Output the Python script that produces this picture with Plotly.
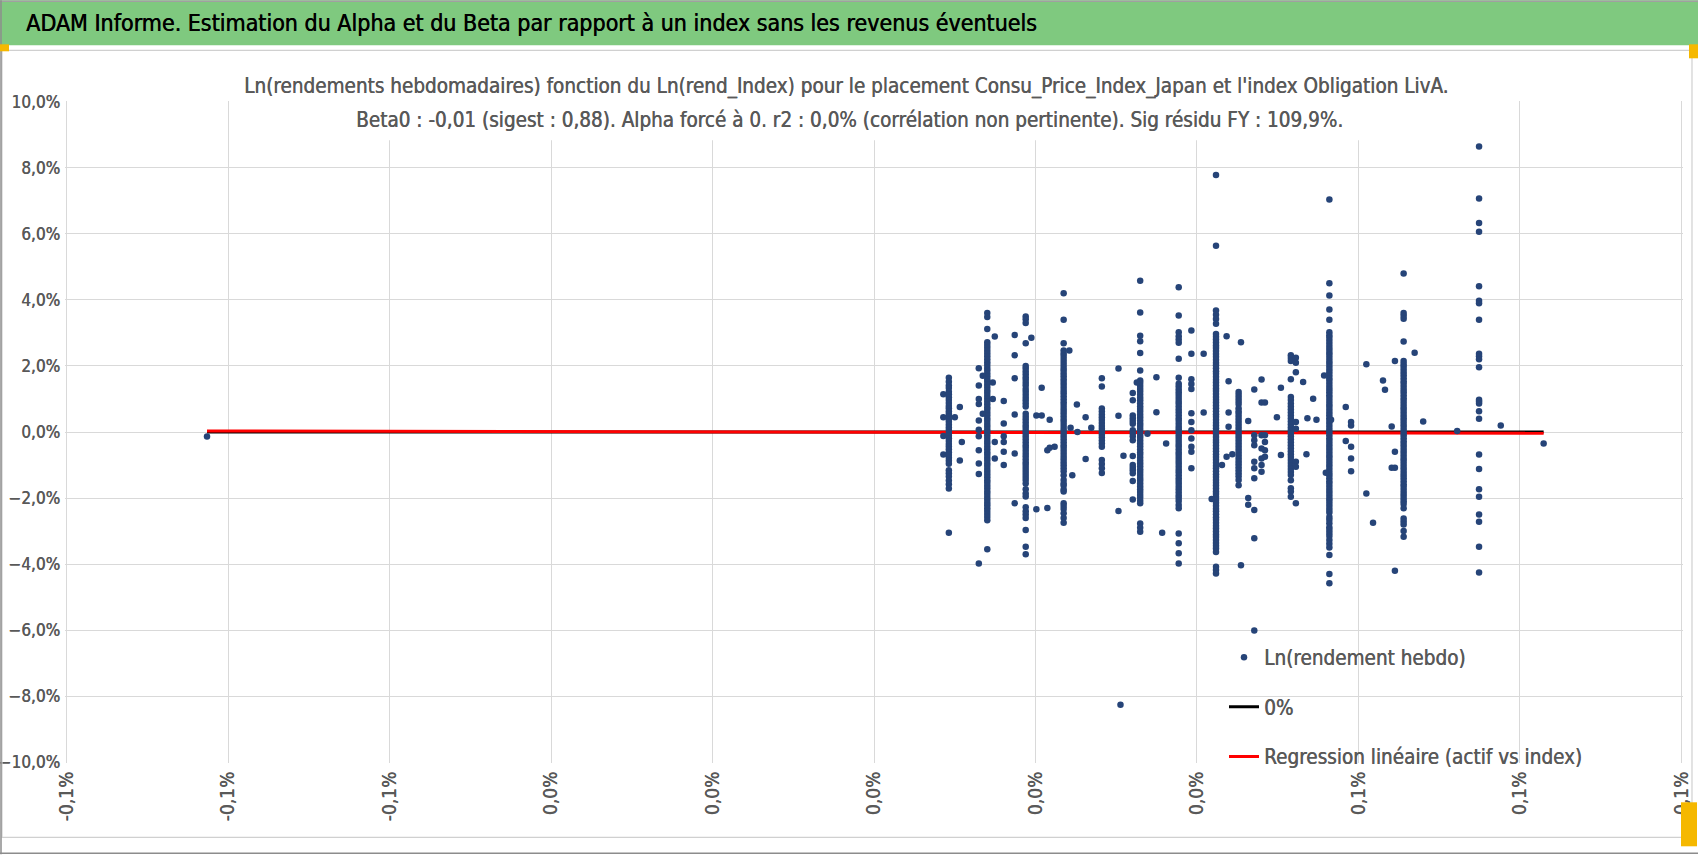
import plotly.graph_objects as go

# ---------- data (ln returns, in %) ----------
# x = ln(rend_Index) hebdo, y = ln(rendement hebdo) of the asset

col_x = [0.00927, 0.01403, 0.01879, 0.02349, 0.02822, 0.03205, 0.03297,
         0.03774, 0.04236, 0.04516, 0.05163, 0.05640, 0.06560, 0.07494]

c01 = [1.64, 1.52, 1.41, 1.33, 1.22, 1.14, 1.05, 0.97, 0.88, 0.79, 0.72, 0.63, 0.55, 0.47, 0.38,
       0.31, 0.22, 0.14, 0.06, -0.03, -0.11, -0.19, -0.27, -0.36, -0.44, -0.52, -0.61, -0.7, -0.78,
       -0.87, -0.96, -1.16, -1.25, -1.35, -1.47, -1.58, -1.71, -3.05]
c02 = [3.6, 3.48, 3.12, 2.72, 2.63, 2.55, 2.46, 2.38, 2.29, 2.2, 2.11, 2.03, 1.94, 1.86, 1.77, 1.69,
       1.6, 1.52, 1.43, 1.35, 1.26, 1.18, 1.09, 1.01, 0.92, 0.84, 0.75, 0.67, 0.58, 0.5, 0.41, 0.33,
       0.24, 0.16, 0.07, -0.01, -0.1, -0.18, -0.27, -0.35, -0.44, -0.52, -0.61, -0.69, -0.78, -0.86,
       -0.95, -1.03, -1.12, -1.2, -1.29, -1.37, -1.46, -1.54, -1.63, -1.71, -1.8, -1.88, -1.97, -2.05,
       -2.14, -2.22, -2.31, -2.39, -2.48, -2.57, -2.67, -3.55]
c03 = [3.5, 3.41, 3.3, 2.69, 2.0, 1.92, 1.83, 1.75, 1.66, 1.58, 1.49, 1.41, 1.3, 1.22, 1.13, 1.04,
       0.95, 0.86, 0.77, 0.55, 0.46, 0.38, 0.29, 0.2, 0.12, 0.03, -0.05, -0.14, -0.22, -0.31, -0.4,
       -0.48, -0.57, -0.66, -0.74, -0.83, -0.92, -1.0, -1.09, -1.18, -1.27, -1.36, -1.45, -1.56,
       -1.73, -1.86, -1.95, -2.28, -2.4, -2.5, -2.6, -2.97, -3.47, -3.7]
c04 = [4.2, 3.4, 2.69, 2.47, 2.38, 2.3, 2.21, 2.12, 2.03, 1.94, 1.86, 1.77, 1.69, 1.6, 1.51, 1.43,
       1.34, 1.25, 1.17, 1.08, 0.99, 0.9, 0.82, 0.73, 0.64, 0.56, 0.47, 0.38, 0.3, 0.21, 0.12, 0.04,
       -0.05, -0.14, -0.22, -0.31, -0.4, -0.48, -0.57, -0.66, -0.75, -0.83, -0.92, -1.01, -1.1,
       -1.19, -1.31, -1.45, -1.56, -1.62, -1.74, -1.8, -2.16, -2.24, -2.33, -2.46, -2.6, -2.75]
c05 = [1.63, 1.38, 0.71, 0.62, 0.53, 0.45, 0.36, 0.27, 0.18, 0.1, 0.01, -0.08, -0.17, -0.26,
       -0.35, -0.45, -0.85, -0.97, -1.1, -1.24]
c06 = [1.18, 0.96, 0.5, 0.42, 0.33, 0.25, 0.05, -0.04, -0.13, -0.25, -0.73, -1.0, -1.08, -1.16,
       -1.25, -1.48, -2.04]
c07 = [4.58, 3.62, 2.91, 2.75, 2.39, 1.86, 1.56, 1.48, 1.39, 1.3, 1.22, 1.13, 1.04, 0.96, 0.87,
       0.78, 0.7, 0.61, 0.52, 0.44, 0.35, 0.26, 0.18, 0.09, 0.0, -0.09, -0.17, -0.26, -0.35, -0.43,
       -0.52, -0.61, -0.69, -0.78, -0.87, -0.95, -1.04, -1.13, -1.21, -1.3, -1.39, -1.47, -1.56,
       -1.65, -1.73, -1.82, -1.91, -1.99, -2.08, -2.16, -2.77, -2.9, -3.02]
c08 = [4.38, 3.53, 3.02, 2.9, 2.8, 2.7, 2.22, 1.64, 1.46, 1.38, 1.29, 1.2, 1.12, 1.03, 0.94, 0.86,
       0.77, 0.68, 0.6, 0.51, 0.42, 0.34, 0.25, 0.16, 0.08, -0.01, -0.1, -0.18, -0.27, -0.36, -0.44,
       -0.53, -0.62, -0.7, -0.79, -0.88, -0.96, -1.05, -1.14, -1.22, -1.31, -1.4, -1.48, -1.57,
       -1.66, -1.74, -1.83, -1.92, -2.0, -2.09, -2.21, -2.31, -3.07, -3.37, -3.67, -3.98]
c09 = [7.78, 5.64, 3.68, 3.55, 3.42, 3.28, 2.97, 2.88, 2.8, 2.71, 2.62, 2.54, 2.45, 2.36, 2.28,
       2.19, 2.1, 2.02, 1.93, 1.84, 1.76, 1.67, 1.58, 1.5, 1.41, 1.32, 1.24, 1.15, 1.06, 0.98, 0.89,
       0.8, 0.72, 0.63, 0.54, 0.46, 0.37, 0.28, 0.2, 0.11, 0.02, -0.06, -0.15, -0.24, -0.32, -0.41,
       -0.5, -0.58, -0.67, -0.76, -0.84, -0.93, -1.02, -1.1, -1.19, -1.28, -1.36, -1.45, -1.54,
       -1.62, -1.71, -1.8, -1.88, -1.97, -2.06, -2.14, -2.23, -2.32, -2.4, -2.49, -2.58, -2.66,
       -2.75, -2.84, -2.92, -3.01, -3.1, -3.18, -3.27, -3.36, -3.44, -3.53, -3.63, -4.08, -4.18, -4.28]
c10 = [1.21, 1.12, 1.03, 0.94, 0.85, 0.72, 0.63, 0.55, 0.46, 0.37, 0.28, 0.19, 0.1, 0.01, -0.08,
       -0.17, -0.26, -0.35, -0.44, -0.53, -0.62, -0.71, -0.8, -0.89, -0.98, -1.07, -1.16, -1.25,
       -1.34, -1.45, -1.61]
c11 = [2.32, 2.24, 2.15, 1.6, 1.06, 0.97, 0.86, 0.77, 0.68, 0.59, 0.5, 0.41, 0.32, 0.23, 0.14,
       0.05, -0.04, -0.13, -0.22, -0.31, -0.4, -0.49, -0.58, -0.67, -0.76, -0.85, -0.94, -1.03,
       -1.12, -1.21, -1.3, -1.46, -1.7, -1.8, -1.96]
c12 = [7.04, 4.5, 4.13, 3.71, 3.4, 3.02, 2.93, 2.85, 2.76, 2.67, 2.58, 2.5, 2.41, 2.33, 2.24, 2.15,
       2.07, 1.98, 1.89, 1.81, 1.72, 1.63, 1.55, 1.46, 1.37, 1.29, 1.2, 1.11, 1.03, 0.94, 0.85, 0.77,
       0.68, 0.59, 0.51, 0.42, 0.33, 0.25, 0.16, 0.07, -0.01, -0.1, -0.19, -0.27, -0.36, -0.45,
       -0.53, -0.62, -0.71, -0.79, -0.88, -0.97, -1.05, -1.14, -1.23, -1.31, -1.4, -1.49, -1.57,
       -1.66, -1.75, -1.83, -1.92, -2.01, -2.09, -2.18, -2.27, -2.35, -2.44, -2.57, -2.66, -2.76,
       -2.88, -2.97, -3.06, -3.15, -3.27, -3.38, -3.5, -3.72, -4.3, -4.58]
c13 = [4.8, 3.6, 3.52, 3.43, 2.74, 2.15, 2.06, 1.98, 1.89, 1.8, 1.72, 1.63, 1.54, 1.46, 1.37, 1.28,
       1.2, 1.11, 1.02, 0.94, 0.85, 0.76, 0.68, 0.59, 0.5, 0.42, 0.33, 0.24, 0.16, 0.07, -0.02, -0.1,
       -0.19, -0.28, -0.36, -0.45, -0.54, -0.62, -0.71, -0.8, -0.88, -0.97, -1.06, -1.14, -1.23,
       -1.32, -1.4, -1.49, -1.58, -1.66, -1.75, -1.84, -1.92, -2.01, -2.1, -2.18, -2.31, -2.62,
       -2.71, -2.8, -3.0, -3.17]
c14 = [8.64, 7.07, 6.33, 6.06, 4.41, 3.97, 3.9, 3.4, 2.37, 2.29, 2.2, 1.96, 0.98, 0.92, 0.86,
       0.63, 0.4, -0.68, -1.12, -1.73, -1.96, -2.5, -2.72, -3.47, -4.25]
col_y = [c01, c02, c03, c04, c05, c06, c07, c08, c09, c10, c11, c12, c13, c14]

# isolated weeks
sx = [0.00859, 0.00859, 0.00859, 0.00859, 0.01001, 0.01063, 0.01063, 0.01088,
      0.01298, 0.01298, 0.01298, 0.01298, 0.01298, 0.01298, 0.01298, 0.01298, 0.01298, 0.01298,
      0.01347, 0.01347, 0.01496, 0.01471, 0.01471, 0.01496, 0.01496,
      0.01607, 0.01607, 0.01607, 0.01607, 0.01607, 0.01607, 0.01298,
      0.01743, 0.01743, 0.01743, 0.01743, 0.01743, 0.01743, 0.01949, 0.02011, 0.02011,
      0.02077, 0.02077, 0.02147, 0.02147, 0.02176, 0.02176, 0.02237,
      0.02419, 0.02435, 0.02456, 0.02513, 0.02520, 0.02621, 0.02621, 0.02691,
      0.03028, 0.03028, 0.03028, 0.03090,
      0.03255, 0.03387, 0.03498, 0.03498, 0.03569, 0.03618,
      0.03931, 0.03931, 0.03931, 0.03931, 0.03931, 0.03931, 0.03931, 0.03931, 0.03931,
      0.03931, 0.03931, 0.03931, 0.04083, 0.04083,
      0.04182, 0.04310, 0.04367, 0.04367, 0.04392, 0.04392, 0.04392, 0.04438, 0.04545, 0.04545,
      0.04635, 0.04635, 0.04635, 0.04710, 0.04710, 0.04710, 0.04710, 0.04710, 0.04710, 0.04710,
      0.04710, 0.04710, 0.04710, 0.04800, 0.04800, 0.04800, 0.04800, 0.04800, 0.04800, 0.04800,
      0.04842, 0.04842, 0.04842, 0.04842, 0.04842, 0.04990, 0.05040, 0.05040,
      0.05225, 0.05225, 0.05225, 0.05225, 0.05225, 0.05225, 0.05225, 0.05225,
      0.05315, 0.05356, 0.05368, 0.05439, 0.05480, 0.05575, 0.05596,
      0.05661, 0.05843, 0.05843, 0.05909, 0.05909, 0.05909, 0.05909, 0.05909,
      0.06098, 0.06098, 0.06181, 0.06304, 0.06329, 0.06412, 0.06412, 0.06452, 0.06452, 0.06452,
      0.06452, 0.06696, 0.06802, 0.07223, 0.07763, 0.08294, -0.08261, 0.03053]
sy = [1.14, 0.45, -0.12, -0.68, 0.45, 0.76, -0.86, -0.3,
      1.93, 1.41, 1.0, 0.85, 0.35, 0.07, -0.13, -0.55, -0.95, -1.27,
      1.7, 0.55, 2.89, 1.5, 1.0, -0.3, -0.8,
      0.94, 0.26, -0.13, -0.3, -0.6, -1.0, -3.98,
      2.94, 2.32, 1.63, 0.53, -0.65, -2.16, 2.85, 0.5, -2.34,
      1.34, 0.5, -0.55, -2.3, 0.37, -0.48, -0.45,
      2.47, 0.13, -1.31, 0.83, 0.0, 0.45, -0.82, 0.13,
      1.92, 0.49, -2.39, -0.72,
      1.5, -0.05, 1.66, 0.6, -3.05, -0.35,
      3.07, 2.37, 1.6, 1.45, 1.3, 0.57, 0.3, 0.05, -0.2,
      -0.45, -0.6, -1.1, 2.37, 0.59,
      -2.03, -1.0, 2.9, -0.75, 1.54, 0.59, 0.16, -0.67, 2.72, -4.03,
      0.33, -2.0, -2.2, 1.29, -0.1, -0.25, -0.4, -0.9,
      -1.1, -1.4, -2.36, -3.22, -6.01, 1.59, 0.89, -0.1, -0.5, -0.8,
      -1.0, -1.2, 0.89, -0.1, -0.3, -0.55, -0.75, 0.45, 1.34, -0.7,
      2.25, 2.1, 1.81, 0.3, 0.1, -0.9, -1.05, -2.16,
      1.51, -0.67, 0.42, 1.01, 0.37, 1.71, -1.23,
      0.37, 0.76, -0.27, 0.3, 0.2, -0.45, -0.8, -1.19,
      2.05, -1.86, -2.75, 1.56, 1.28, 0.17, -1.08, 2.15, -0.6, -1.08,
      -4.2, 2.4, 0.32, 0.03, 0.2, -0.35, -0.14, -8.26]

reg_y_ends = [0.03, -0.04]   # regression line ends, in %

x_tickvals = [-0.10, -0.08, -0.06, -0.04, -0.02, 0.0, 0.02, 0.04, 0.06, 0.08, 0.10]
x_ticktext = ["-0,1%", "-0,1%", "-0,1%", "0,0%", "0,0%", "0,0%", "0,0%", "0,0%", "0,1%", "0,1%", "0,1%"]

# ---------- build series ----------
xs, ys = [], []
for x, col in zip(col_x, col_y):
    xs += [x] * len(col)
    ys += col
xs += sx
ys += sy
xs = [v / 100 for v in xs]
ys = [v / 100 for v in ys]
x_ends = [min(xs), max(xs)]

FONT = "Liberation Sans Narrow, Arial Narrow, DejaVu Sans Condensed, sans-serif"
GREY = "#595959"
# a hair of shadow to get closer to the heavier Calibri rendering of the original
THICK = "0.45px 0px 0px #595959"

fig = go.Figure()
fig.add_trace(go.Scatter(x=x_ends, y=[0, 0], mode="lines", name="0%",
                         line=dict(color="black", width=3.2),
                         legendgroup="b", legendrank=2))
fig.add_trace(go.Scatter(x=x_ends, y=[v / 100 for v in reg_y_ends], mode="lines",
                         name="Regression linéaire (actif vs index)",
                         line=dict(color="#ff0000", width=3),
                         legendgroup="c", legendrank=3))
fig.add_trace(go.Scatter(x=xs, y=ys, mode="markers", name="Ln(rendement hebdo)",
                         marker=dict(color="#264478", size=6.5),
                         legendgroup="a", legendrank=1))

# sheet decoration: green banner, chart border, selection handles
def px_x(p):
    return (p - 65) / 1618

def px_y(p):
    return (762.7 - p) / 662

shapes = [
    dict(type="rect", xref="paper", yref="paper", x0=px_x(0), x1=px_x(1698), y0=px_y(45), y1=px_y(0),
         fillcolor="#7fc97f", line=dict(width=0), layer="above"),
    dict(type="line", xref="paper", yref="paper", x0=px_x(0), x1=px_x(1698), y0=px_y(1), y1=px_y(1),
         line=dict(color="#a0a0a0", width=1.5)),
    dict(type="rect", xref="paper", yref="paper", x0=px_x(2), x1=px_x(1692), y0=px_y(837), y1=px_y(50),
         line=dict(color="#d0d0d0", width=1.2)),
    dict(type="line", xref="paper", yref="paper", x0=px_x(1), x1=px_x(1), y0=px_y(854), y1=px_y(0),
         line=dict(color="#8c8c8c", width=1.5)),
    dict(type="line", xref="paper", yref="paper", x0=px_x(0), x1=px_x(1698), y0=px_y(853), y1=px_y(853),
         line=dict(color="#8c8c8c", width=1.5)),
    dict(type="rect", xref="paper", yref="paper", x0=px_x(0), x1=px_x(9), y0=px_y(51), y1=px_y(44),
         fillcolor="#f5b800", line=dict(width=0), layer="above"),
    dict(type="rect", xref="paper", yref="paper", x0=px_x(1689), x1=px_x(1698), y0=px_y(58), y1=px_y(44),
         fillcolor="#f5b800", line=dict(width=0), layer="above"),
    dict(type="rect", xref="paper", yref="paper", x0=px_x(1681), x1=px_x(1697), y0=px_y(846), y1=px_y(802),
         fillcolor="#f5b800", line=dict(width=0), layer="above"),
    # white box behind the chart title
    dict(type="rect", xref="paper", yref="paper", x0=px_x(244), x1=px_x(1447), y0=px_y(140), y1=px_y(62),
         fillcolor="white", line=dict(width=0), layer="above"),
]

annotations = [
    dict(text="ADAM Informe. Estimation du Alpha et du Beta par rapport à un index sans les revenus éventuels",
         xref="paper", yref="paper", x=px_x(24), y=px_y(23), xanchor="left", yanchor="middle",
         showarrow=False,
         font=dict(family=FONT, size=23, color="black", shadow="0.5px 0px 0px black")),
    dict(text="Ln(rendements hebdomadaires) fonction du Ln(rend_Index) pour le placement "
              "Consu_Price_Index_Japan et l'index Obligation LivA.",
         xref="paper", yref="paper", x=px_x(846), y=px_y(86), xanchor="center", yanchor="middle",
         showarrow=False, font=dict(family=FONT, size=20.5, color=GREY, shadow=THICK)),
    dict(text="Beta0 : -0,01 (sigest : 0,88). Alpha forcé à 0. r2 : 0,0% (corrélation non pertinente). "
              "Sig résidu FY : 109,9%.",
         xref="paper", yref="paper", x=px_x(849), y=px_y(120), xanchor="center", yanchor="middle",
         showarrow=False, font=dict(family=FONT, size=20.5, color=GREY, shadow=THICK)),
]

fig.update_layout(
    width=1698, height=855,
    margin=dict(l=65, r=15, t=101, b=92, pad=0),
    paper_bgcolor="white", plot_bgcolor="white",
    separators=", ",
    font=dict(family=FONT, size=17, color=GREY),
    showlegend=True,
    legend=dict(x=px_x(1224), y=px_y(637), xanchor="left", yanchor="top",
                bgcolor="rgba(255,255,255,0)",
                font=dict(size=20.5, color=GREY, shadow=THICK),
                tracegroupgap=20, itemwidth=30),
    shapes=shapes,
    annotations=annotations,
)
fig.update_xaxes(range=[-0.001002, 0.001002], tickvals=[v / 100 for v in x_tickvals],
                 ticktext=x_ticktext, tickangle=-90, showgrid=True, gridcolor="#d9d9d9",
                 gridwidth=1.4, zeroline=False, showline=False, ticks="", automargin=False,
                 ticklabelstandoff=4, tickfont=dict(size=19, color=GREY, shadow=THICK))
fig.update_yaxes(range=[-0.1002, 0.1002], dtick=0.02, tick0=0, tickformat=".1%",
                 showgrid=True, gridcolor="#d9d9d9", gridwidth=1.4, zeroline=False,
                 showline=False, ticks="", automargin=False, ticklabelstandoff=4,
                 tickfont=dict(size=17, color=GREY, shadow=THICK))

# the page body has a default 8px margin; drop it so the figure sits at the window corner
fig.write_html("out.html", config={"displayModeBar": False},
               post_script="document.body.style.margin='0px';")
